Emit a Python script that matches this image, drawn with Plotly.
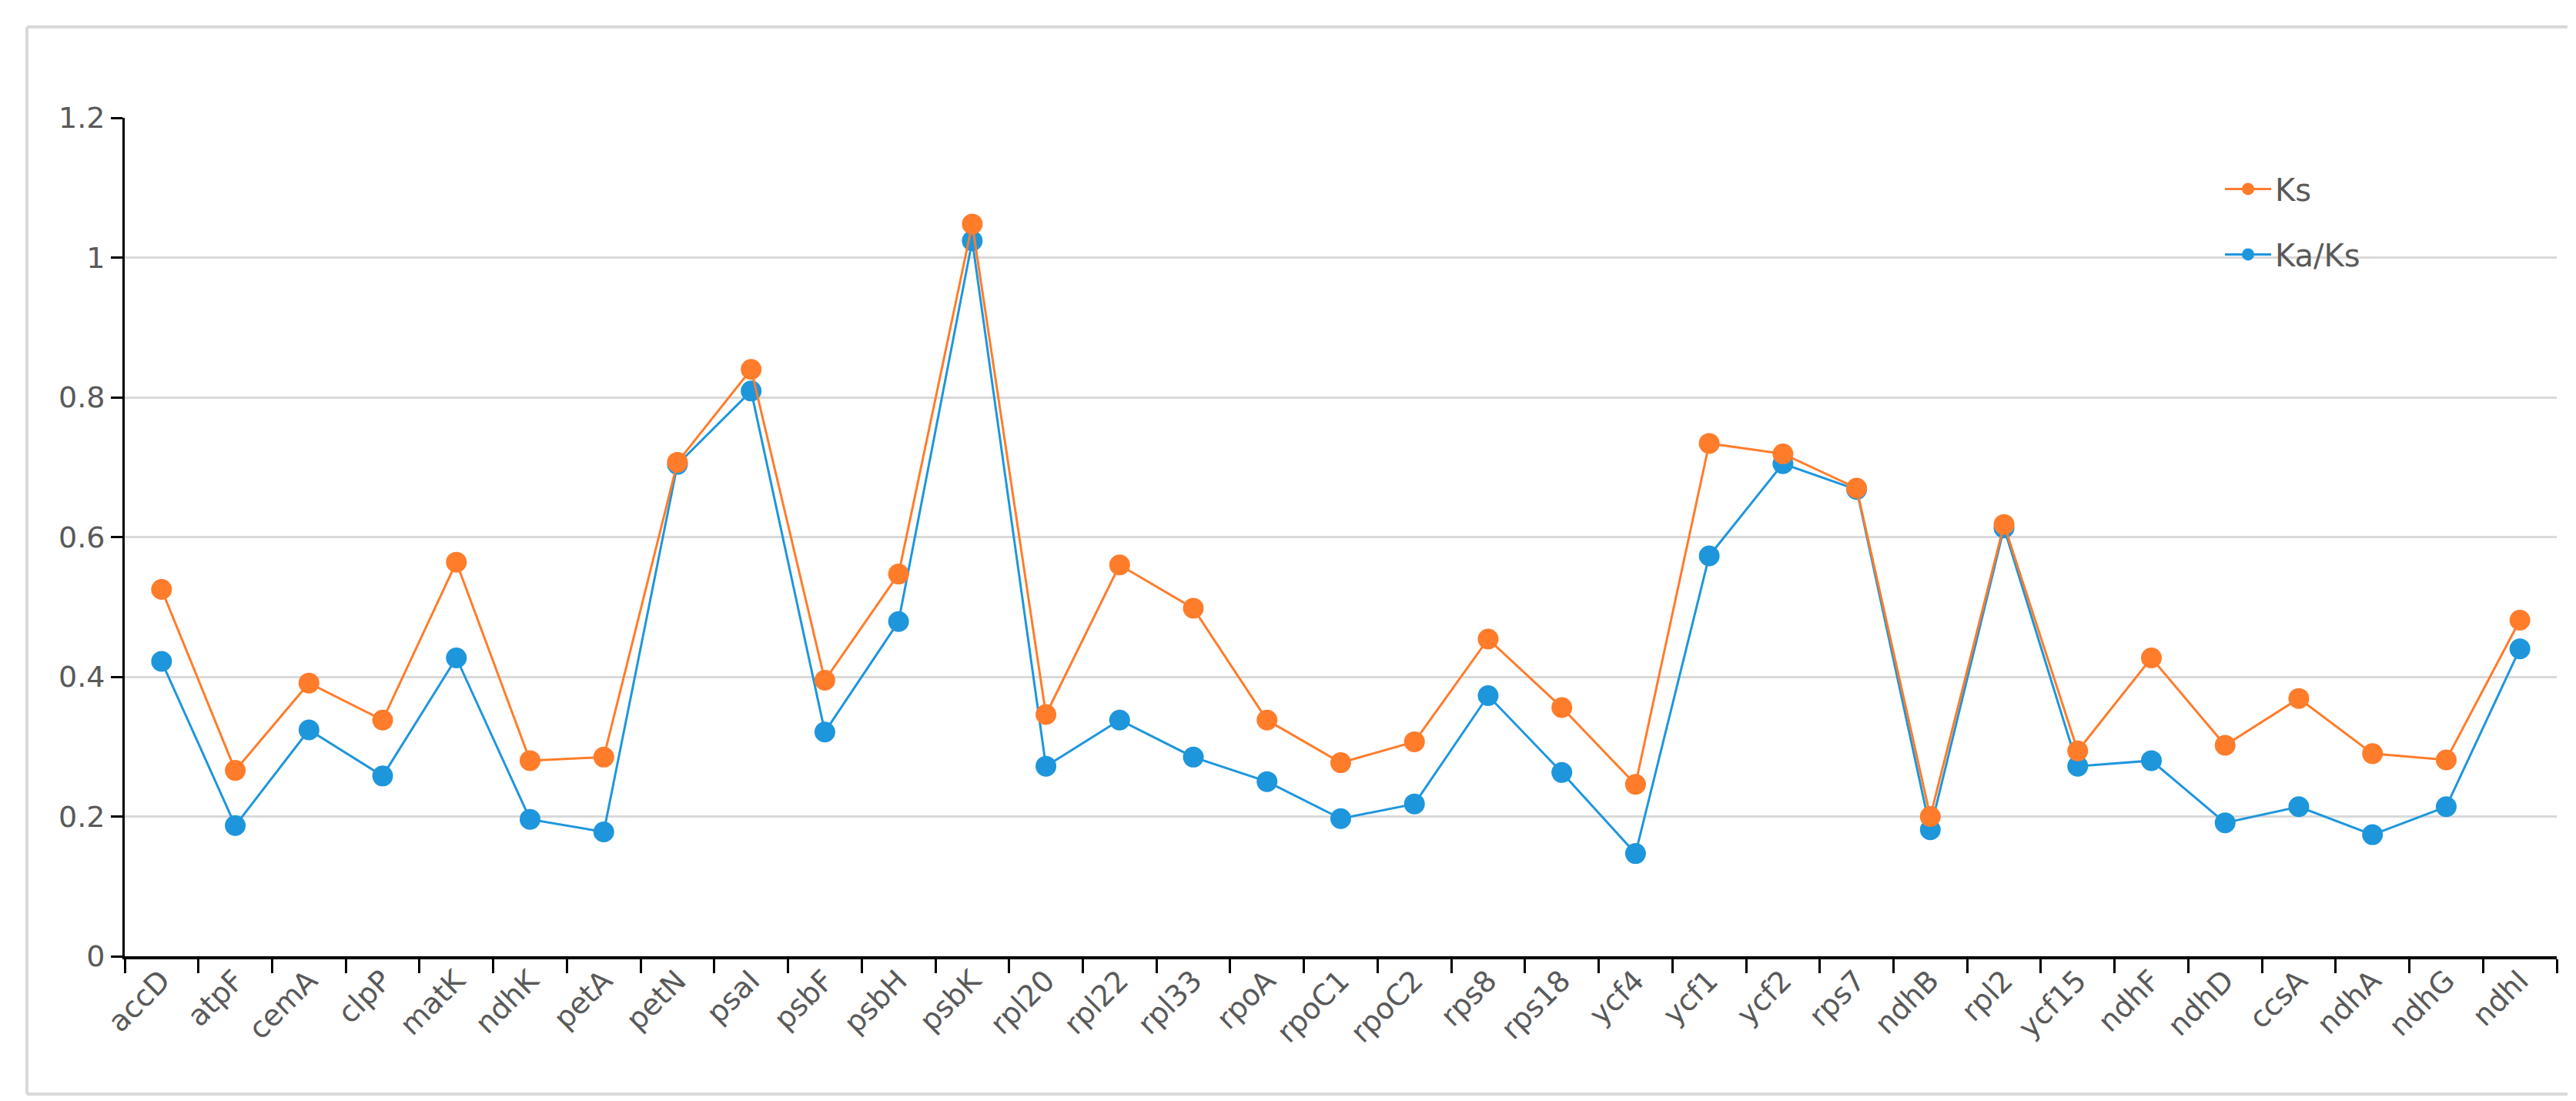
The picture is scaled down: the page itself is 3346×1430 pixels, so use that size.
import plotly.graph_objects as go

genes = ["accD", "atpF", "cemA", "clpP", "matK", "ndhK", "petA", "petN", "psaI", "psbF",
         "psbH", "psbK", "rpl20", "rpl22", "rpl33", "rpoA", "rpoC1", "rpoC2", "rps8", "rps18",
         "ycf4", "ycf1", "ycf2", "rps7", "ndhB", "rpl2", "ycf15", "ndhF", "ndhD", "ccsA",
         "ndhA", "ndhG", "ndhI"]

ks = [0.525, 0.266, 0.391, 0.338, 0.564, 0.280, 0.285, 0.707, 0.840, 0.395,
      0.547, 1.048, 0.346, 0.560, 0.498, 0.338, 0.277, 0.307, 0.454, 0.356,
      0.246, 0.734, 0.719, 0.670, 0.200, 0.618, 0.294, 0.427, 0.302, 0.369,
      0.290, 0.281, 0.481]

ka_ks = [0.422, 0.187, 0.324, 0.258, 0.427, 0.196, 0.178, 0.704, 0.809, 0.321,
         0.479, 1.024, 0.272, 0.338, 0.285, 0.250, 0.197, 0.218, 0.373, 0.263,
         0.147, 0.573, 0.705, 0.668, 0.181, 0.613, 0.272, 0.280, 0.191, 0.214,
         0.174, 0.214, 0.440]

y_ticks = [0, 0.2, 0.4, 0.6, 0.8, 1.0, 1.2]
y_tick_labels = ["0", "0.2", "0.4", "0.6", "0.8", "1", "1.2"]

ORANGE = "#FF7C2B"
BLUE = "#1E96DC"
TEXT = "#595959"
FONT = "DejaVu Sans"

fig = go.Figure()
fig.add_trace(go.Scatter(
    x=genes, y=ka_ks, name="Ka/Ks", mode="lines+markers", legendgroup="b", legendrank=2,
    line=dict(color=BLUE, width=3),
    marker=dict(color=BLUE, size=27),
))
fig.add_trace(go.Scatter(
    x=genes, y=ks, name="Ks", mode="lines+markers", legendgroup="a", legendrank=1,
    line=dict(color=ORANGE, width=3),
    marker=dict(color=ORANGE, size=27),
))

fig.update_layout(
    width=3346, height=1430,
    margin=dict(l=154, r=33, t=145, b=196),
    paper_bgcolor="white", plot_bgcolor="white",
    font=dict(family=FONT, size=40, color=TEXT),
    showlegend=True,
    legend=dict(
        x=0.862, y=0.945, xanchor="left", yanchor="top",
        traceorder="grouped", tracegroupgap=30,
        bgcolor="rgba(0,0,0,0)", font=dict(family=FONT, size=40, color=TEXT),
        itemwidth=60,
    ),
    xaxis=dict(
        type="category", categoryorder="array", categoryarray=genes,
        range=[-0.5, len(genes) - 0.5],
        showgrid=False, zeroline=False,
        showline=True, linecolor="black", linewidth=4,
        ticks="outside", tickson="boundaries", ticklen=18, tickwidth=3, tickcolor="black",
        tickangle=-45, tickfont=dict(family=FONT, size=38, color=TEXT),
        ticklabelstandoff=-10,
    ),
    yaxis=dict(
        range=[0, 1.2], tickvals=y_ticks, ticktext=y_tick_labels,
        showgrid=True, gridcolor="#D9D9D9", gridwidth=3, zeroline=False,
        showline=True, linecolor="black", linewidth=3,
        ticks="outside", ticklen=15, tickwidth=3, tickcolor="black",
        tickfont=dict(family=FONT, size=38, color=TEXT),
        ticklabelstandoff=0,
    ),
)

# light chart-area frame (left, top, bottom edges)
border = dict(type="line", xref="paper", yref="paper", line=dict(color="#D9D9D9", width=4), layer="below")
x0 = -(154 - 27) / 3159
x1 = (3327 - 154) / 3159
ytop = (1234 - 27) / 1089
ybot = -(1413 - 1234) / 1089
fig.add_shape(**border, x0=x0, x1=x1, y0=ytop, y1=ytop)
fig.add_shape(**border, x0=x0, x1=x0, y0=ybot, y1=ytop)
fig.add_shape(**border, x0=x0, x1=x1, y0=ybot, y1=ybot)

fig.write_html("out.html")
